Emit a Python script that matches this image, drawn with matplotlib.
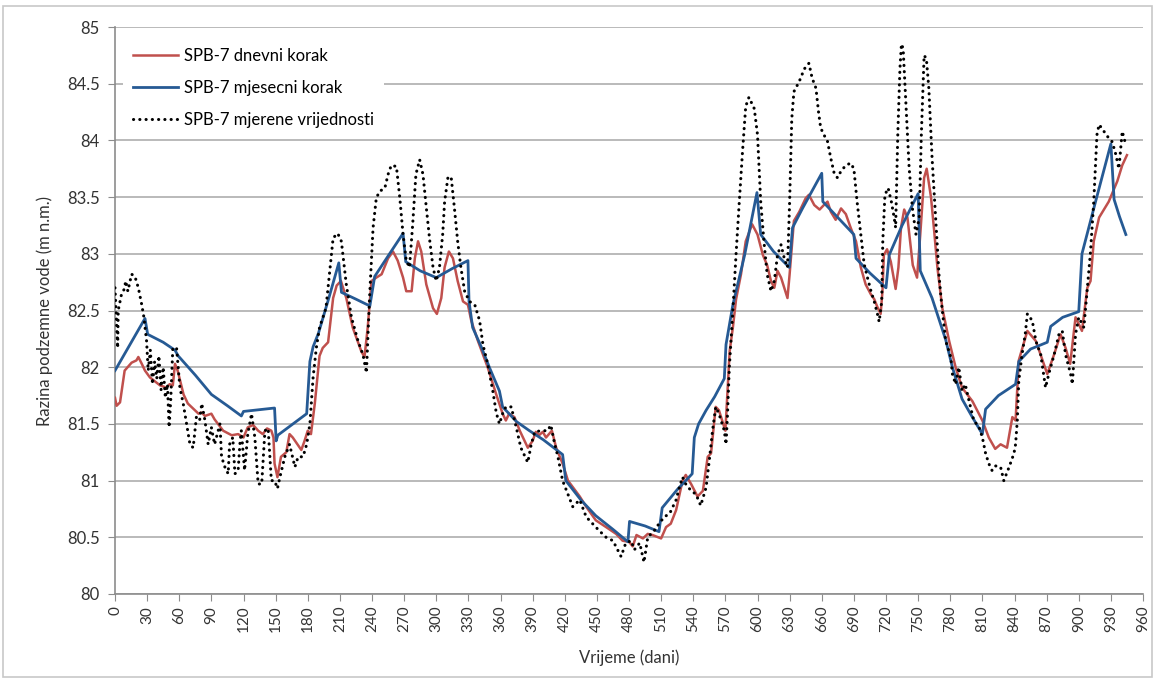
import matplotlib.pyplot as plt
from matplotlib.patches import Rectangle
from matplotlib.ticker import MultipleLocator, FuncFormatter

plt.rcParams['font.family'] = ['Lato', 'DejaVu Sans']

# SPB-7, proracun s dnevnim korakom
dnevni_dani = [
    0, 1.5, 4.7, 9, 15.5, 20, 21.8, 25, 28, 32.6, 42, 48, 51, 54, 56, 58.5, 64, 68, 78, 81,
    84, 90, 93, 101, 109, 115, 120, 124, 129, 133.7, 138, 142, 146, 148, 149, 151.7, 155, 160,
    163, 166, 174, 177, 180, 183, 186.6, 191, 194, 199, 203.7, 207, 211, 216, 222, 230, 233,
    236, 239.5, 244, 249, 255, 259.6, 264, 269, 272, 277, 280, 283, 286, 290.7, 297, 300.6,
    304.7, 307.8, 311.8, 315.6, 320, 325, 329.6, 332.7, 339, 348, 356, 362, 365, 368, 373,
    378, 385.5, 390, 393, 396, 399.5, 402.5, 408, 412, 418, 423, 434, 440, 449, 458.6, 468,
    474, 480, 483.5, 487, 493, 497.5, 502, 510, 514.6, 519, 524, 530, 533, 538, 544, 549,
    553.5, 556.6, 561, 564, 570, 574, 577, 580, 584.6, 589, 595, 600, 605, 609, 612.6, 615.7,
    618.7, 622, 626, 628, 630, 634, 639, 645, 648, 653, 658, 662, 665.4, 668.5, 673, 678,
    682.5, 687, 692, 696.5, 701, 706, 709, 712, 715, 716.7, 718, 721, 724.5, 729, 731.6, 734,
    737, 740, 745, 749, 752, 755.6, 758, 762, 765, 768, 772.6, 779, 785, 791, 800.7, 810,
    816, 822, 827, 833, 838, 841, 844, 852, 860, 870.6, 876.9, 883, 887.7, 892, 897, 903,
    908, 911, 914, 919, 928, 936, 940.6, 945]
dnevni_razina = [
    81.73, 81.66, 81.69, 81.97, 82.04, 82.06, 82.09, 82.03, 81.97, 81.91, 81.84, 81.82, 81.85,
    81.84, 82.03, 81.97, 81.76, 81.68, 81.59, 81.60, 81.57, 81.59, 81.54, 81.44, 81.40, 81.41,
    81.38, 81.47, 81.49, 81.44, 81.41, 81.46, 81.44, 81.38, 81.15, 81.03, 81.21, 81.25, 81.41,
    81.38, 81.27, 81.35, 81.44, 81.41, 81.68, 82.10, 82.17, 82.22, 82.61, 82.72, 82.76, 82.61,
    82.35, 82.14, 82.09, 82.35, 82.76, 82.79, 82.82, 82.96, 83.02, 82.94, 82.79, 82.67, 82.67,
    82.96, 83.11, 83.02, 82.73, 82.52, 82.47, 82.61, 82.88, 83.02, 82.96, 82.76, 82.58, 82.55,
    82.41, 82.23, 82.00, 81.76, 81.59, 81.53, 81.59, 81.56, 81.44, 81.29, 81.35, 81.43, 81.40,
    81.43, 81.38, 81.44, 81.29, 81.15, 81.00, 80.86, 80.77, 80.65, 80.59, 80.53, 80.47, 80.46,
    80.42, 80.52, 80.49, 80.53, 80.52, 80.49, 80.59, 80.62, 80.74, 81.00, 81.05, 80.97, 80.86,
    80.91, 81.21, 81.24, 81.65, 81.62, 81.44, 82.14, 82.35, 82.60, 82.82, 83.11, 83.26, 83.17,
    82.99, 82.90, 82.76, 82.70, 82.85, 82.79, 82.67, 82.61, 82.82, 83.29, 83.37, 83.49, 83.52,
    83.43, 83.39, 83.43, 83.46, 83.37, 83.30, 83.40, 83.35, 83.23, 83.11, 82.88, 82.73, 82.64,
    82.60, 82.53, 82.47, 82.67, 82.99, 83.04, 82.93, 82.69, 82.88, 83.23, 83.39, 83.32, 82.90,
    82.79, 83.17, 83.67, 83.75, 83.50, 83.20, 82.88, 82.52, 82.23, 82.00, 81.82, 81.70, 81.53,
    81.38, 81.28, 81.32, 81.29, 81.56, 81.53, 82.06, 82.32, 82.23, 81.94, 82.11, 82.29, 82.17,
    82.03, 82.44, 82.32, 82.70, 82.76, 83.11, 83.32, 83.46, 83.64, 83.78, 83.87]

# SPB-7, proracun s mjesecnim korakom
mjesecni_dani = [
    0, 28, 30.5, 45, 56, 59, 75, 90, 105, 118, 120, 149, 150.5, 152, 179, 182, 185, 190, 200,
    209, 211.5, 225, 238, 242.5, 255, 269, 271.5, 285, 300, 315, 329.6, 330.6, 334, 342, 350,
    359, 362, 375, 387, 400, 418, 421, 435, 449, 465, 479, 480.5, 495, 508, 511, 525, 539,
    541, 545, 552, 560, 569, 570.6, 577, 588, 599.5, 603, 615, 629.7, 632.7, 642, 660, 661,
    675, 690, 692, 705, 720, 723, 735, 750, 752, 763, 775.8, 782, 791, 800, 810, 813, 825,
    841, 844, 855, 870.6, 873.8, 885, 900, 903, 915.7, 930, 933, 938, 944]
mjesecni_razina = [
    81.97, 82.43, 82.29, 82.22, 82.15, 82.10, 81.93, 81.76, 81.66, 81.57, 81.61, 81.64, 81.35,
    81.40, 81.59, 82.05, 82.18, 82.30, 82.62, 82.92, 82.66, 82.60, 82.54, 82.80, 82.98, 83.18,
    82.93, 82.85, 82.79, 82.87, 82.94, 82.58, 82.35, 82.18, 81.99, 81.79, 81.65, 81.52, 81.44,
    81.36, 81.23, 81.00, 80.83, 80.69, 80.57, 80.46, 80.64, 80.60, 80.55, 80.76, 80.92, 81.06,
    81.38, 81.50, 81.62, 81.74, 81.90, 82.20, 82.55, 82.99, 83.54, 83.17, 83.02, 82.88, 83.23,
    83.40, 83.71, 83.46, 83.32, 83.17, 82.96, 82.83, 82.70, 82.99, 83.25, 83.53, 82.85, 82.61,
    82.24, 82.00, 81.72, 81.57, 81.41, 81.63, 81.75, 81.85, 82.05, 82.16, 82.22, 82.36, 82.44,
    82.49, 83.00, 83.46, 83.97, 83.48, 83.33, 83.17]

# SPB-7, izmjerene razine
mjereno_dani = [
    0, 2.5, 3, 6, 8.7, 10, 12, 15.5, 18.6, 21.8, 25, 27, 29.5, 31, 33, 35, 37, 39, 41, 43, 45,
    47, 49, 50.5, 52, 54, 57.5, 60.6, 63.7, 66, 70, 73, 76, 79, 81, 84, 87, 90, 93, 98, 99.5,
    102.6, 105.7, 107, 110, 112, 115, 116.6, 118, 121, 124, 127.5, 130.6, 133.7, 137, 140, 143,
    144.6, 146, 149, 151.7, 154, 158.6, 163, 168, 171, 175.6, 179, 182, 185, 188, 191, 197,
    203.7, 208, 211.4, 216, 220.8, 227, 231.6, 234.8, 236, 238, 241, 244, 247, 252, 255, 258,
    262.8, 266, 269, 272, 275, 278, 281, 284.5, 287.6, 290.8, 294, 297, 300, 303, 306, 307.8,
    311, 314, 317, 320, 323, 326.5, 331, 336, 340.5, 343.6, 348, 353, 356, 359, 362, 365, 370,
    374.7, 379, 382.5, 385.5, 388.7, 392, 398, 404, 407, 410, 413.6, 418, 423, 427.5, 434,
    440, 446, 452, 458.6, 465, 472.6, 477, 482, 485, 490, 494, 497.5, 503.7, 508, 513, 518,
    521, 524, 527, 530, 533, 538, 542.5, 547, 552, 555, 558, 561, 564, 569, 570.6, 572, 573.7,
    577, 580, 583, 586, 589, 592, 597, 600, 603, 606, 609, 612.6, 615.7, 618.7, 622, 625, 628,
    630, 632, 634, 639, 643.7, 648, 651, 654.6, 657, 659, 662, 665.4, 668.5, 671.6, 674.7,
    678, 682.5, 687, 690, 693, 696.5, 699.6, 702.7, 706, 709, 712, 713.6, 716, 717, 719, 722,
    725, 727.6, 729, 731, 733, 734.4, 736, 738.5, 741.6, 744.7, 748, 751, 753, 755.6, 757.7,
    760, 763, 766.5, 769.6, 772, 775.8, 780.5, 782, 785, 788, 791, 794, 797.6, 802, 807, 810,
    813, 816, 819, 822, 827, 830, 835, 839.5, 841, 842.6, 844, 847, 850, 852, 856.6, 860,
    864.5, 869, 872, 877, 881.5, 884.6, 887.7, 892.4, 894, 897, 900, 904.8, 908, 911, 914,
    917, 919, 923.5, 928, 931, 934, 937.5, 940.6, 944]
mjereno_razina = [
    82.70, 82.17, 82.50, 82.64, 82.69, 82.76, 82.67, 82.82, 82.80, 82.70, 82.55, 82.44, 82.23,
    81.97, 82.15, 81.85, 82.05, 81.90, 82.10, 81.80, 82.00, 81.73, 81.85, 81.47, 81.70, 82.17,
    82.17, 81.82, 81.68, 81.55, 81.32, 81.29, 81.56, 81.53, 81.68, 81.53, 81.32, 81.47, 81.32,
    81.50, 81.21, 81.12, 81.06, 81.32, 81.38, 81.06, 81.09, 81.32, 81.44, 81.09, 81.41, 81.59,
    81.38, 80.97, 80.97, 81.44, 81.46, 81.21, 81.00, 81.00, 80.93, 81.03, 81.21, 81.32, 81.12,
    81.21, 81.21, 81.32, 81.50, 81.91, 82.17, 82.35, 82.52, 83.14, 83.18, 83.11, 82.73, 82.44,
    82.23, 82.11, 81.95, 82.23, 82.67, 83.23, 83.49, 83.55, 83.58, 83.70, 83.78, 83.77, 83.49,
    83.17, 82.94, 82.88, 83.26, 83.70, 83.83, 83.70, 83.40, 83.11, 82.88, 82.76, 82.88, 83.17,
    83.46, 83.68, 83.67, 83.40, 83.11, 82.88, 82.67, 82.58, 82.55, 82.41, 82.20, 82.03, 81.78,
    81.60, 81.50, 81.59, 81.65, 81.65, 81.47, 81.29, 81.22, 81.16, 81.32, 81.43, 81.44, 81.44,
    81.49, 81.35, 81.21, 81.00, 80.88, 80.77, 80.83, 80.68, 80.62, 80.56, 80.50, 80.47, 80.33,
    80.45, 80.47, 80.39, 80.45, 80.28, 80.50, 80.56, 80.62, 80.68, 80.71, 80.77, 80.83, 80.94,
    81.03, 80.97, 80.91, 80.88, 80.78, 80.94, 81.18, 81.44, 81.65, 81.59, 81.44, 81.32, 81.59,
    82.00, 82.50, 83.00, 83.46, 83.90, 84.30, 84.38, 84.28, 84.05, 83.46, 83.11, 82.82, 82.67,
    82.76, 82.99, 83.08, 82.96, 82.88, 83.46, 84.19, 84.43, 84.52, 84.63, 84.68, 84.55, 84.46,
    84.25, 84.11, 84.05, 83.99, 83.84, 83.71, 83.67, 83.73, 83.78, 83.80, 83.75, 83.46, 83.17,
    82.91, 82.79, 82.67, 82.58, 82.47, 82.40, 82.58, 83.11, 83.52, 83.58, 83.46, 83.32, 83.23,
    84.05, 84.63, 84.85, 84.81, 84.34, 83.76, 83.40, 83.17, 83.32, 84.05, 84.75, 84.72, 84.46,
    83.85, 83.30, 82.80, 82.55, 82.23, 82.09, 81.94, 81.85, 82.00, 81.79, 81.85, 81.70, 81.53,
    81.47, 81.38, 81.24, 81.15, 81.09, 81.13, 81.12, 81.00, 81.12, 81.24, 81.32, 81.53, 81.88,
    82.11, 82.29, 82.47, 82.41, 82.23, 82.11, 81.82, 81.94, 82.11, 82.29, 82.32, 82.11, 81.94,
    81.85, 82.29, 82.44, 82.35, 82.70, 83.02, 83.46, 84.05, 84.14, 84.08, 84.02, 83.99, 83.90,
    83.75, 84.08, 83.96]

fig = plt.figure(figsize=(11.55, 6.8), dpi=100)
ax = fig.add_axes([115 / 1155, 1 - 594 / 680, 1028 / 1155, 567 / 680])

# okvir oko cijelog grafikona
fig.patches.append(Rectangle((0.003, 0.004), 0.994, 0.987, transform=fig.transFigure,
                             fill=False, edgecolor='#c8c8c8', linewidth=1.2))

ax.plot(dnevni_dani, dnevni_razina, color='#c0504d', linewidth=1.8,
        label='SPB-7 dnevni korak', zorder=3)
ax.plot(mjesecni_dani, mjesecni_razina, color='#265a94', linewidth=2.0,
        label='SPB-7 mjesecni korak', zorder=4)
ax.plot(mjereno_dani, mjereno_razina, color='black', linewidth=2.2,
        linestyle=(0, (0.05, 2.0)), dash_capstyle='round',
        label='SPB-7 mjerene vrijednosti', zorder=5)

ax.set_xlim(0, 960)
ax.set_ylim(80, 85)
ax.xaxis.set_major_locator(MultipleLocator(30))
ax.yaxis.set_major_locator(MultipleLocator(0.5))
ax.yaxis.set_major_formatter(FuncFormatter(lambda v, p: f'{v:g}'))
ax.grid(axis='y', color='#b4b4b4', linewidth=1.3)
ax.set_axisbelow(True)

for s in ['top', 'right']:
    ax.spines[s].set_visible(False)
for s in ['left', 'bottom']:
    ax.spines[s].set_color('#8c8c8c')
    ax.spines[s].set_linewidth(1.2)
ax.tick_params(axis='x', direction='out', length=5, color='#8c8c8c',
               labelrotation=90, labelsize=11, labelcolor='#333333')
ax.tick_params(axis='y', direction='out', length=5, color='#8c8c8c',
               labelsize=12, labelcolor='#333333', pad=6)

ax.set_xlabel('Vrijeme (dani)', fontsize=12, color='#333333', labelpad=12)
ax.set_ylabel('Razina podzemne vode (m n.m.)', fontsize=12, color='#333333', labelpad=10)

leg = ax.legend(loc='upper left', bbox_to_anchor=(0.0, 0.995), fontsize=12,
                handlelength=2.7, handletextpad=0.35, labelspacing=0.95,
                frameon=True, fancybox=False, borderpad=0.6)
leg.get_frame().set_facecolor('white')
leg.get_frame().set_edgecolor('none')
leg.get_frame().set_alpha(1)

fig.savefig('out.png', dpi=100)
